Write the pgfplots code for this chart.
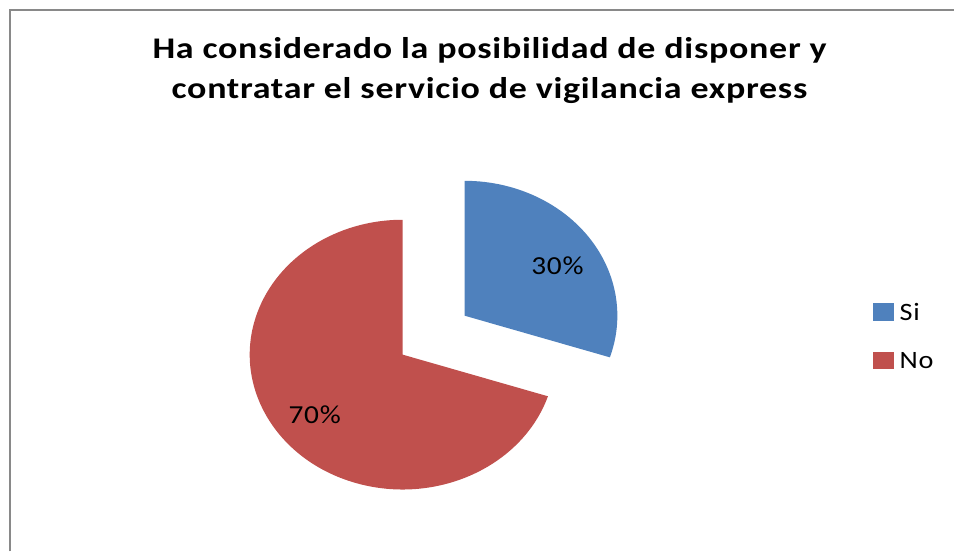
\documentclass[border=0pt]{standalone}
\usepackage{fontspec}
\setmainfont{Carlito}[FakeStretch=1.13, LetterSpace=3]
\usepackage{pgfplots}
\pgfplotsset{compat=1.18}
\definecolor{siblue}{HTML}{4F81BD}
\definecolor{nored}{HTML}{C0504D}
\definecolor{framegray}{HTML}{898989}

% shares of the two answers (percent)
\def\valSi{30}
\def\valNo{70}

\begin{document}
\begin{tikzpicture}
\begin{axis}[
    width=955pt, height=552pt,
    scale only axis,
    xmin=0, xmax=955,
    ymin=0, ymax=552,
    hide axis,
    clip=false,
]
\path (axis cs:0,0) rectangle (axis cs:955,552);
% frame
\draw[framegray, line width=2pt] (axis cs:10,0) -- (axis cs:10,542) -- (axis cs:955,542);

% title
\node[font=\fontsize{30}{40}\selectfont\bfseries\addfontfeatures{FakeStretch=1.2, LetterSpace=2.4}, align=center, anchor=center]
    at (axis cs:490,481) {Ha considerado la posibilidad de disponer y\\contratar el servicio de vigilancia express};

\pgfmathsetmacro{\angSi}{90-3.6*\valSi}
\pgfmathsetmacro{\dxNo}{153*cos(\angSi)}
\pgfmathsetmacro{\dyNo}{135*sin(\angSi)}
% Si slice (exploded)
\fill[siblue] (axis cs:465,236) -- ++(0pt,135pt)
    arc[start angle=90, end angle=\angSi, x radius=153pt, y radius=135pt] -- cycle;
% No slice
\fill[nored] (axis cs:403,197) -- ++(\dxNo pt,\dyNo pt)
    arc[start angle=\angSi, end angle=-270, x radius=153pt, y radius=135pt] -- cycle;

% value labels
\node[font=\fontsize{26}{30}\selectfont] at (axis cs:558,286) {\valSi\%};
\node[font=\fontsize{26}{30}\selectfont] at (axis cs:315,137) {\valNo\%};

% legend
\fill[siblue] (axis cs:874,231) rectangle (axis cs:895,249);
\node[anchor=west, font=\fontsize{25}{28}\selectfont] at (axis cs:897,240) {Si};
\fill[nored] (axis cs:874,183) rectangle (axis cs:895,200);
\node[anchor=west, font=\fontsize{25}{28}\selectfont] at (axis cs:897,191) {No};
\end{axis}
\end{tikzpicture}
\end{document}
